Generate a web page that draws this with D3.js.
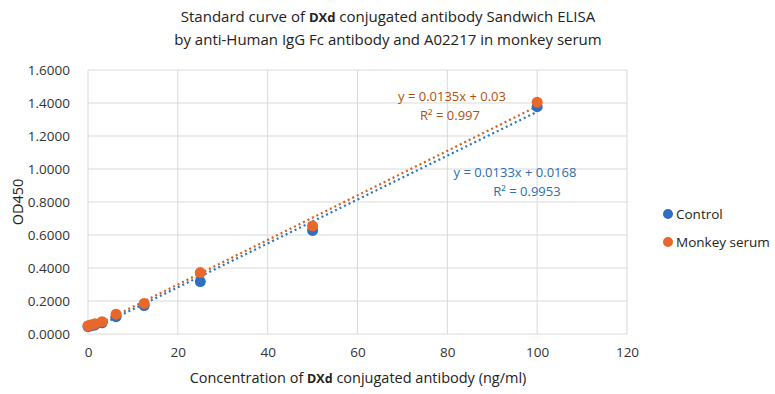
<!DOCTYPE html>
<html>
<head>
<meta charset="utf-8">
<script src="https://cdn.jsdelivr.net/npm/d3@7"></script>
<style>
  body { margin: 0; background: #fff; }
  text { font-family: "Open Sans", "Liberation Sans", sans-serif; }
</style>
</head>
<body>
<div class="chart"></div>
<script>
// concentrations (ng/ml)
const concentrations = [0, 0.78, 1.56, 3.125, 6.25, 12.5, 25, 50, 100]
const controlValues = [0.045, 0.05, 0.055, 0.068, 0.105, 0.172, 0.318, 0.628, 1.378]
const monkeyValues = [0.05, 0.056, 0.062, 0.075, 0.12, 0.185, 0.372, 0.655, 1.405]

const seriesNames = ['Control', 'Monkey serum']
const slopes = [0.0133, 0.0135]
const intercepts = [0.0168, 0.03]
const equations = ['y = 0.0133x + 0.0168', 'y = 0.0135x + 0.03']
const rSquared = ['R² = 0.9953', 'R² = 0.997']

const xTicks = [0, 20, 40, 60, 80, 100, 120]
const yTicks = [0, 0.2, 0.4, 0.6, 0.8, 1.0, 1.2, 1.4, 1.6]

const colors = ['#2F6FC2', '#E8682C']
const lineColors = ['#2E75B6', '#D0601E']
const labelColors = ['#2E6DAE', '#B0500F']

const dimensions = {
    width: 775,
    height: 394,
    margin: { top: 70, bottom: 60, right: 148, left: 88 }
}

const svg = d3.select('.chart')
    .append('svg')
    .attr('width', dimensions.width)
    .attr('height', dimensions.height)

const x = d3.scaleLinear().domain([0, 120])
    .range([dimensions.margin.left, dimensions.width - dimensions.margin.right])
const y = d3.scaleLinear().domain([0, 1.6])
    .range([dimensions.height - dimensions.margin.bottom, dimensions.margin.top])

// gridlines
svg.append('g')
    .selectAll('line')
    .data(yTicks)
    .join('line')
    .attr('x1', x(0)).attr('x2', x(120))
    .attr('y1', d => y(d)).attr('y2', d => y(d))
    .attr('stroke', '#d9d9d9').attr('stroke-width', 1)

svg.append('g')
    .selectAll('line')
    .data(xTicks)
    .join('line')
    .attr('y1', y(0)).attr('y2', y(1.6))
    .attr('x1', d => x(d)).attr('x2', d => x(d))
    .attr('stroke', '#d9d9d9').attr('stroke-width', 1)

// axes (labels only)
const yAxis = svg.append('g')
    .attr('transform', `translate(${x(0) - 15},0)`)
    .call(d3.axisLeft(y).tickValues(yTicks).tickFormat(d3.format('.4f')).tickSize(0))
yAxis.select('.domain').remove()
yAxis.selectAll('text').attr('font-size', 13.5).attr('fill', '#333')

const xAxis = svg.append('g')
    .attr('transform', `translate(0,${y(0) + 10})`)
    .call(d3.axisBottom(x).tickValues(xTicks).tickFormat(d3.format('d')).tickSize(0))
xAxis.select('.domain').remove()
xAxis.selectAll('text').attr('font-size', 13.5).attr('fill', '#333')

// trendlines
const series = [controlValues, monkeyValues]
series.forEach((vals, i) => {
    svg.append('line')
        .attr('x1', x(0)).attr('y1', y(intercepts[i]))
        .attr('x2', x(100)).attr('y2', y(intercepts[i] + slopes[i] * 100))
        .attr('stroke', lineColors[i])
        .attr('stroke-width', 2.2)
        .attr('stroke-dasharray', '2 3')
})

// points
series.forEach((vals, i) => {
    svg.append('g')
        .selectAll('circle')
        .data(vals)
        .join('circle')
        .attr('cx', (d, j) => x(concentrations[j]))
        .attr('cy', d => y(d))
        .attr('r', 5.5)
        .attr('fill', colors[i])
})

// equation labels
const eqPos = [[515, 177], [452, 101]]
equations.forEach((eq, i) => {
    svg.append('text')
        .attr('x', eqPos[i][0]).attr('y', eqPos[i][1])
        .attr('text-anchor', 'middle')
        .attr('font-size', 13)
        .attr('fill', labelColors[i])
        .text(eq)
    svg.append('text')
        .attr('x', eqPos[i][0] + (i === 0 ? 12 : -2)).attr('y', eqPos[i][1] + 19)
        .attr('text-anchor', 'middle')
        .attr('font-size', 13)
        .attr('fill', labelColors[i])
        .text(rSquared[i])
})

// title
const title = svg.append('text')
    .attr('x', 388).attr('y', 22)
    .attr('text-anchor', 'middle')
    .attr('font-size', 15)
    .attr('fill', '#222')
title.append('tspan').text('Standard curve of ')
title.append('tspan').attr('font-weight', 'bold').attr('font-size', 13).text('DXd')
title.append('tspan').text(' conjugated antibody Sandwich ELISA')

svg.append('text')
    .attr('x', 388).attr('y', 45)
    .attr('text-anchor', 'middle')
    .attr('font-size', 15)
    .attr('fill', '#222')
    .text('by anti-Human IgG Fc antibody and A02217 in monkey serum')

// axis titles
const xt = svg.append('text')
    .attr('x', 358).attr('y', 383)
    .attr('text-anchor', 'middle')
    .attr('font-size', 14.5)
    .attr('fill', '#222')
xt.append('tspan').text('Concentration of ')
xt.append('tspan').attr('font-weight', 'bold').attr('font-size', 12.5).text('DXd')
xt.append('tspan').text(' conjugated antibody (ng/ml)')

svg.append('text')
    .attr('transform', `translate(23,${y(0.8)}) rotate(-90)`)
    .attr('text-anchor', 'middle')
    .attr('font-size', 14.5)
    .attr('fill', '#222')
    .text('OD450')

// legend
const legend = svg.append('g')
    .selectAll('g')
    .data(seriesNames)
    .join('g')
    .attr('transform', (d, i) => `translate(668,${214 + i * 28})`)
legend.append('circle').attr('r', 5).attr('fill', (d, i) => colors[i])
legend.append('text')
    .attr('x', 8).attr('dy', '0.35em')
    .attr('font-size', 13.5)
    .attr('fill', '#222')
    .text(d => d)
</script>
</body>
</html>
